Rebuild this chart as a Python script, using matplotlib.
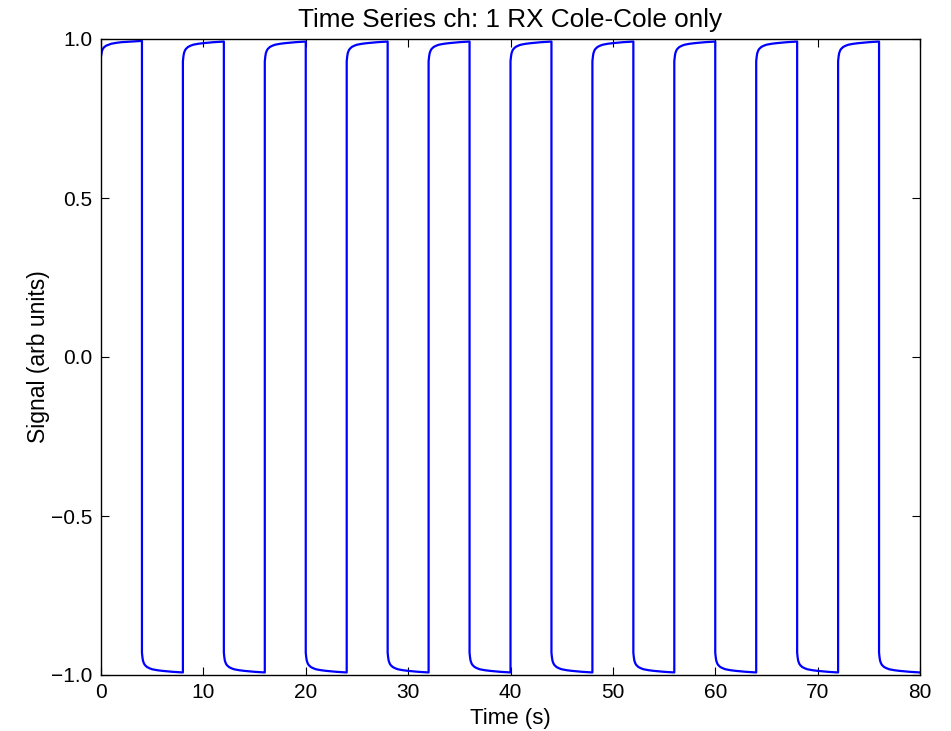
import numpy as np
import matplotlib
matplotlib.use("Agg")
import matplotlib.pyplot as plt

# ---- data ----
half_period = 4.0           # s, transmitter on-time per polarity
n_segments = 20             # 0..80 s
# relaxation shape within one half cycle (time since switch, |signal|)
shape_dt = [0.0, 0.05, 0.1, 0.2, 0.3, 0.5, 0.75, 1.0, 1.5, 2.0, 3.0, 4.0]
shape_mag = [0.93, 0.945, 0.955, 0.964, 0.969, 0.975, 0.979, 0.982, 0.985, 0.987, 0.990, 0.992]
# first segment starts from zero so the overshoot is smaller
first_mag = [0.945, 0.955, 0.963, 0.970, 0.974, 0.979, 0.982, 0.985, 0.988, 0.990, 0.992, 0.994]

title = "Time Series ch: 1 RX Cole-Cole only"
xlabel = "Time (s)"
ylabel = "Signal (arb units)"
xticks = [0, 10, 20, 30, 40, 50, 60, 70, 80]
yticks = [-1.0, -0.5, 0.0, 0.5, 1.0]

# ---- build series ----
t_all, v_all = [], []
for k in range(n_segments):
    sign = 1.0 if k % 2 == 0 else -1.0
    mags = first_mag if k == 0 else shape_mag
    for dt, m in zip(shape_dt, mags):
        t_all.append(k * half_period + dt)
        v_all.append(sign * m)

plt.rcParams['font.family'] = ['Liberation Sans', 'DejaVu Sans']
fig = plt.figure(figsize=(9.51, 7.31), dpi=100, facecolor='white')
ax = fig.add_axes([101/951, 1-675/731, (920-101)/951, (675-39)/731])
ax.plot(t_all, v_all, color='#0000ff', lw=1.6)
ax.set_xlim(0, 80)
ax.set_ylim(-1, 1)
ax.set_xticks(xticks)
ax.set_yticks(yticks)
ax.set_yticklabels(["\u22121.0", "\u22120.5", "0.0", "0.5", "1.0"])
ax.tick_params(direction='in', top=True, right=True, length=6, width=0.8, labelsize=15, pad=6)
for s in ax.spines.values():
    s.set_linewidth(1.0)
ax.set_title(title, fontsize=18.8, pad=9)
ax.set_xlabel(xlabel, fontsize=16, labelpad=4)
ax.set_ylabel(ylabel, fontsize=16.5, labelpad=1)
fig.savefig("out.png", dpi=100, facecolor='white')
